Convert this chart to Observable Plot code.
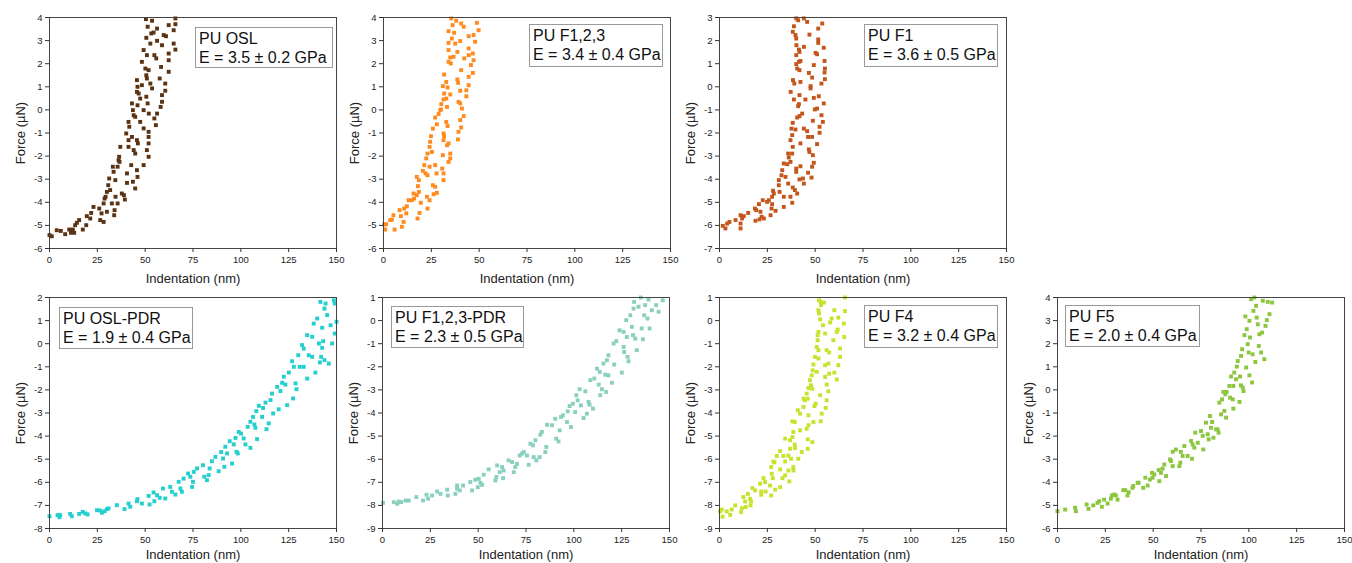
<!DOCTYPE html>
<html>
<head>
<meta charset="utf-8">
<script src="https://cdn.jsdelivr.net/npm/d3@7"></script>
<script src="https://cdn.jsdelivr.net/npm/@observablehq/plot@0.6"></script>
<style>
  html, body { margin: 0; padding: 0; background: #fff; }
  #wrap { position: relative; width: 1352px; height: 563px; overflow: hidden; background: #fff; font-family: "Liberation Sans", Arial, sans-serif; }
  .panel { position: absolute; }
  .legend { position: absolute; border: 1px solid #9a9a9a; background: #fff; box-sizing: border-box;
            font-family: "Liberation Sans", Arial, sans-serif; font-size: 16px; line-height: 19px; color: #111;
            padding: 1px 3px; white-space: nowrap; }
</style>
</head>
<body>
<div id="wrap"></div>
<script>
// ---------- data ----------
const xTicks = [0, 25, 50, 75, 100, 125, 150];

// PU OSL
const oslX = [50.4,51.3,53.6,53.2,54.4,56.2,52.7,50.6,62.3,64.9,65.8,65.8,59.7,60.9,56.2,58.8,
  49.2,48.3,50.9,50.1,50.6,51.8,50.9,54.8,55.8,58.3,62.3,62.3,62.3,64.9,65.8,45.7,46.0,48.3,52.7,53.6,57.6,60.5,60.5,
  43.1,43.6,44.0,44.8,45.7,46.6,46.0,47.4,49.2,50.6,51.3,51.9,54.8,55.6,56.2,58.1,58.8,58.8,41.3,41.7,47.4,49.2,51.8,51.8,
  40.1,41.3,41.3,43.1,44.0,44.8,45.7,46.2,50.9,51.8,51.8,37.0,36.4,36.1,35.6,36.6,33.1,33.5,34.4,40.5,40.5,42.7,43.6,45.7,46.0,49.2,31.2,
  30.7,31.7,30.0,29.3,28.8,28.3,26.0,27.2,26.5,28.3,30.0,32.6,34.0,33.8,35.6,34.5,37.8,38.9,39.4,44.8,
  23.0,21.8,21.3,19.5,19.2,17.4,15.5,14.3,13.4,12.2,11.2,10.3,12.9,8.2,5.9,3.8,1.2,0];
const oslY = [3.93,3.6,3.86,3.31,3.35,3.52,2.87,3.12,3.67,3.45,3.96,3.71,3.24,3.19,2.99,2.8,
  2.59,2.08,2.37,1.79,1.5,1.72,1.36,2.37,2.23,1.86,2.44,2.15,1.65,2.87,2.61,1.29,1.0,1.07,1.14,0.93,1.36,1.14,0.83,
  0.28,-0.01,-0.23,-0.3,0.78,0.71,0.2,0.49,-0.01,0.57,0.28,-0.16,-0.37,-0.66,-0.16,0.13,0.35,0.64,-0.52,-0.73,-0.52,-0.8,-0.95,-1.17,
  -1.02,-1.31,-1.6,-1.17,-1.74,-1.89,-1.31,-1.45,-1.74,-2.03,-1.45,-1.6,-2.03,-2.18,-2.46,-2.25,-2.46,-2.68,-3.04,-2.75,-3.16,-2.39,-3.11,-2.61,-2.9,-2.39,-2.97,
  -3.26,-3.47,-3.55,-3.76,-3.84,-4.05,-4.27,-4.48,-4.77,-4.85,-4.41,-4.05,-4.34,-4.56,-4.05,-3.76,-3.62,-3.69,-3.88,-3.4,
  -4.2,-4.46,-4.7,-4.6,-4.99,-5.18,-4.77,-4.89,-4.99,-5.18,-5.32,-5.18,-5.32,-5.38,-5.24,-5.21,-5.47,-5.42];

// PU F1,2,3
const f123X = [35.4,36.1,38.0,40.6,41.9,48.8,49.7,34.0,35.7,36.9,37.5,40.1,44.5,47.1,47.9,34.0,34.0,34.9,35.2,34.0,36.6,38.6,42.2,44.5,44.5,45.7,46.7,47.1,46.7,40.6,
  31.7,32.8,33.5,31.0,31.7,31.4,32.8,34.9,38.6,39.0,44.5,44.5,43.3,43.3,40.1,30.2,29.7,28.8,27.0,27.9,30.0,33.2,32.8,33.5,39.2,40.1,41.0,41.9,40.1,40.6,39.2,38.9,
  31.4,31.7,31.4,25.8,24.8,24.4,24.1,25.3,23.0,22.3,21.3,22.0,20.6,18.5,18.0,18.5,17.4,16.0,15.7,14.8,13.1,17.4,23.0,24.1,27.0,27.7,27.0,25.8,26.2,27.9,30.7,31.4,31.4,31.0,33.2,34.0,34.9,34.9,34.0,
  22.7,23.0,19.5,18.8,17.8,12.2,11.9,10.8,10.5,9.6,8.4,5.2,4.4,3.5,5.8,0.3,1.4,0.9,9.1,24.1];
const f123Y = [3.96,3.67,3.86,3.74,3.6,3.77,3.45,3.41,3.09,3.34,2.87,2.98,3.19,3.24,2.95,2.9,2.59,2.27,2.01,2.08,2.3,2.51,2.23,2.66,2.37,1.94,2.44,2.15,1.6,1.72,
  1.53,1.21,0.97,1.03,0.71,0.45,0.49,0.67,1.32,1.17,1.43,1.07,0.85,0.59,0.83,0.25,-0.01,-0.18,-0.33,-0.62,0.02,0.13,-0.52,-0.7,0.35,0.28,0.06,-0.27,-0.44,-0.76,-0.95,-1.28,
  -1.02,-1.14,-1.31,-0.81,-1.14,-1.38,-1.6,-1.82,-1.89,-2.1,-2.39,-2.75,-2.64,-3.04,-3.3,-3.55,-3.69,-3.84,-3.62,-3.91,-3.91,-2.9,-2.83,-2.46,-2.39,-2.75,-3.33,-3.26,-3.65,-3.59,-2.54,-2.75,-3.04,-1.96,-1.53,-1.45,-1.89,-2.1,-2.25,
  -3.76,-4.27,-4.02,-4.46,-4.7,-4.17,-4.48,-4.27,-4.85,-5.06,-4.34,-4.56,-4.75,-4.77,-5.18,-4.96,-4.95,-5.18,-4.6,-3.91];

// PU F1
const f1X = [40.1,41.1,44.1,45.8,53.7,38.9,38.3,39.7,40.1,47.0,51.6,51.6,51.6,54.5,50.2,51.0,40.2,41.5,41.8,44.1,40.1,41.5,42.3,40.1,40.6,41.8,49.3,54.9,55.1,54.9,55.1,46.7,48.4,
  38.4,39.1,42.3,47.6,47.6,53.3,37.2,38.9,41.8,44.9,49.3,51.9,54.5,51.0,49.8,41.5,41.1,40.6,41.8,43.2,48.8,53.3,54.0,38.3,37.6,39.7,44.1,45.8,46.3,48.4,52.3,52.3,
  38.0,37.1,38.3,38.0,35.9,36.2,42.3,46.7,47.0,48.8,49.3,51.0,37.1,35.4,33.6,32.8,32.4,34.5,40.1,40.1,42.3,48.4,46.3,48.1,41.8,43.6,44.1,38.3,39.4,40.6,37.1,38.0,35.9,
  31.0,31.0,31.4,28.0,28.4,27.5,25.8,27.5,27.2,33.6,33.6,29.3,24.9,22.6,20.6,21.4,22.0,23.2,18.5,19.2,18.8,20.9,26.7,15.0,12.7,11.0,11.0,11.0,8.4,5.2,4.0,1.7,3.1,11.8];
const f1Y = [2.96,2.88,2.96,2.81,2.74,2.62,2.38,2.24,2.09,2.26,2.52,2.05,1.9,1.69,1.47,1.41,1.8,1.61,1.51,1.73,1.37,1.08,1.12,0.98,0.79,0.72,0.94,1.12,0.79,0.62,0.33,0.6,0.4,
  0.29,0.14,0.21,0.03,-0.07,0.14,-0.22,-0.55,-0.36,-0.55,-0.48,-0.41,-0.72,-0.94,-0.98,-0.75,-0.84,-1.33,-1.27,-1.16,-1.47,-1.23,-1.52,-1.56,-1.81,-1.85,-1.81,-1.92,-2.17,-2.17,-1.73,-1.99,
  -2.09,-2.31,-2.6,-2.89,-2.89,-3.06,-2.45,-2.71,-2.82,-2.96,-3.29,-2.48,-3.25,-3.35,-3.32,-3.61,-3.83,-3.9,-3.54,-3.68,-3.44,-3.46,-3.72,-3.93,-4.01,-3.97,-4.19,-4.36,-4.47,-4.62,-4.76,-5.02,-4.19,
  -4.04,-4.26,-4.55,-4.5,-4.62,-4.76,-4.91,-5.08,-5.27,-4.76,-5.2,-5.37,-4.98,-4.91,-5.08,-5.41,-5.63,-5.7,-5.27,-5.34,-5.8,-5.74,-5.56,-5.46,-5.6,-5.56,-5.92,-6.13,-5.77,-5.85,-5.92,-6.02,-6.13,-5.7];

// PU OSL-PDR
const oslPdrX = [0,4.2,5.2,5.6,10.8,11.7,15.5,17.4,18.7,19.9,24.8,26.5,27.4,28.8,30.0,30.9,35.2,39.2,41.3,42.2,45.7,46.0,48.3,51.8,52.3,54.4,54.8,56.2,57.6,59.3,60.5,63.1,64.0,65.8,
  67.5,68.4,69.2,70.1,72.4,73.6,74.5,75.0,75.4,77.1,80.2,80.9,82.3,83.2,83.7,84.9,86.7,88.4,89.7,90.7,91.4,91.9,92.8,94.2,95.4,96.3,97.2,97.7,98.4,98.9,100.1,101.5,102.4,103.6,
  105.0,105.0,106.4,107.1,107.6,108.1,108.5,109.4,111.1,111.6,112.9,113.4,114.6,115.5,116.3,116.9,119.0,119.8,120.7,121.6,122.5,123.3,124.2,125.1,126.8,127.3,127.7,128.6,129.1,
  130.0,130.8,132.0,132.9,132.9,134.7,134.7,135.5,137.3,137.3,138.1,139.0,139.9,140.8,141.3,142.0,142.5,143.0,144.3,141.6,143.7,145.1,146.0,146.9,147.7,148.6,149.1,149.1,150,142.5,143.7];
const oslPdrY = [-7.47,-7.42,-7.51,-7.42,-7.37,-7.47,-7.37,-7.28,-7.35,-7.39,-7.21,-7.22,-7.32,-7.25,-7.16,-7.13,-6.99,-7.16,-6.92,-7.06,-6.82,-6.73,-6.92,-6.59,-6.96,-6.44,-6.82,-6.56,-6.67,-6.27,-6.7,-6.2,-6.41,-6.53,
  -5.98,-6.27,-6.41,-5.84,-5.62,-5.76,-6.2,-5.98,-5.55,-5.4,-5.26,-5.76,-5.91,-5.69,-5.4,-5.09,-4.9,-5.52,-4.69,-4.97,-5.33,-4.46,-4.75,-4.22,-5.19,-4.36,-4.08,-4.68,-4.75,-3.82,-3.89,-4.1,-4.36,-3.6,
  -4.51,-3.38,-3.17,-3.5,-3.64,-2.92,-4.13,-2.69,-3.17,-2.78,-2.55,-3.7,-3.45,-2.44,-2.16,-3.02,-1.87,-2.84,-2.05,-1.69,-1.43,-1.77,-2.66,-1.25,-0.76,-2.37,-1.0,-1.72,-1.97,
  -0.5,-1.0,-0.06,-0.21,-1.0,-1.51,0.37,-0.5,0.3,-0.57,0.87,-1.25,1.09,0.01,-0.81,-0.57,0.69,0.11,1.74,1.81,1.52,1.24,-0.86,0.8,0.01,1.88,1.74,0.44,0.95,-0.18,-0.71];

// PU F1,2,3-PDR
const f123PdrX = [0.3,5.9,7.7,8.5,9.7,12.0,13.7,17.7,21.2,23.0,23.8,25.9,28.5,30.3,33.8,34.1,38.1,39.0,39.0,40.4,42.1,45.9,46.8,48.5,49.8,50.3,51.2,52.0,52.9,55.5,59.0,59.5,59.9,61.3,62.5,63.0,63.3,
  65.9,67.7,68.6,69.4,70.3,71.7,72.9,73.8,75.5,76.4,77.3,78.6,79.0,79.9,80.4,82.1,82.5,83.3,85.1,85.6,86.0,88.6,90.3,90.8,92.0,92.6,93.3,94.3,96.4,96.8,97.8,98.5,99.5,100.7,101.3,102.0,103.0,103.7,
  105.1,106.0,106.8,107.7,108.2,108.6,110.0,110.7,112.1,113.0,113.5,113.8,114.7,115.5,116.4,116.9,117.3,118.1,118.1,119.9,120.8,121.1,122.2,123.9,125.1,126.0,126.0,126.3,127.4,127.7,128.1,128.6,
  129.5,130.3,130.9,131.2,131.5,132.1,132.9,133.8,135.0,135.5,136.1,136.8,137.3,138.5,139.0,139.6,140.8,143.0,144.3,146.5];
const f123PdrY = [-7.89,-7.86,-7.93,-7.83,-7.86,-7.79,-7.79,-7.64,-7.79,-7.54,-7.71,-7.57,-7.4,-7.5,-7.32,-7.57,-7.5,-7.14,-7.28,-7.35,-7.14,-6.99,-7.35,-6.89,-7.21,-6.85,-7.02,-7.11,-6.67,-6.44,-6.92,-6.77,-6.27,-6.56,-6.34,-6.82,-6.49,
  -6.05,-6.12,-6.56,-6.34,-6.2,-5.84,-5.76,-5.69,-5.84,-6.24,-5.33,-5.4,-5.91,-5.18,-6.05,-5.91,-4.94,-4.82,-5.69,-5.47,-4.51,-4.53,-4.25,-5.11,-5.23,-4.75,-4.17,-4.1,-4.39,-3.93,-3.7,-4.61,-3.6,-3.96,-3.23,-3.45,-2.97,-3.67,
  -4.22,-3.06,-4.03,-3.52,-3.64,-2.58,-3.81,-2.51,-2.08,-2.77,-2.22,-3.23,-2.97,-1.86,-2.34,-3.09,-1.72,-1.5,-2.37,-2.69,-0.99,-1.9,-0.89,-0.42,-2.25,-0.49,-1.14,-1.36,0.02,-0.71,-1.57,-1.76,
  0.23,-0.27,-0.63,0.52,0.81,-0.78,-1.28,0.6,1.0,-0.34,-0.81,0.23,0.67,0.09,0.91,-0.34,0.45,0.67,0.38,0.88];

// PU F4
const f4X = [52.0,52.9,54.6,53.1,65.6,65.6,60.0,65.0,51.7,52.0,52.6,58.6,57.8,62.1,54.1,51.7,51.3,61.8,61.3,55.2,51.3,50.8,51.7,59.5,65.2,63.0,56.0,57.3,51.7,49.9,56.9,55.2,62.1,49.1,50.8,48.7,63.0,
  60.0,61.3,57.3,55.2,48.2,47.3,47.8,48.5,46.5,45.6,56.0,56.9,52.6,50.3,49.6,46.1,44.7,43.9,56.0,55.5,43.9,42.1,40.9,46.5,49.1,53.4,52.9,46.5,45.6,42.1,38.1,39.3,38.6,38.1,39.3,39.5,46.1,46.1,48.5,
  34.3,36.9,36.9,36.0,37.4,38.6,41.2,43.0,31.7,33.4,29.9,28.2,27.0,28.7,34.3,31.7,34.3,36.0,38.6,27.3,27.8,23.8,23.0,26.4,29.1,31.7,32.9,36.5,21.2,21.8,21.8,24.1,27.0,18.6,17.2,14.8,12.5,13.4,
  11.7,11.3,13.7,8.2,6.4,5.6,3.8,1.6,0.3,1.2,16.5,16.2,16.0];
const f4Y = [0.88,0.81,0.78,0.67,1.0,0.41,0.45,-0.13,0.45,0.31,0.05,0.09,-0.08,0.13,-0.2,-0.49,-0.63,-0.39,-0.49,-0.56,-0.85,-1.14,-1.28,-0.85,-0.71,-1.21,-1.28,-1.38,-1.64,-1.57,-1.86,-1.93,-1.93,-1.9,-2.22,-2.15,-1.57,
  -2.25,-2.55,-2.3,-2.44,-2.37,-2.58,-2.8,-2.95,-2.92,-3.16,-2.77,-3.06,-3.23,-3.6,-3.7,-3.38,-3.45,-3.38,-3.45,-3.78,-3.74,-4.03,-3.88,-4.1,-4.39,-4.03,-4.36,-4.53,-4.68,-4.75,-4.36,-4.39,-4.82,-5.04,-5.37,-5.52,-5.14,-5.55,-5.26,
  -5.11,-5.18,-5.55,-5.84,-5.98,-6.34,-5.98,-5.69,-5.65,-5.86,-5.86,-6.1,-6.34,-6.14,-6.1,-6.44,-6.7,-6.49,-6.49,-6.63,-6.82,-6.99,-6.82,-7.14,-7.32,-7.21,-6.82,-6.96,-7.06,-7.4,-7.54,-7.4,-7.57,-7.35,-7.25,-7.5,-7.64,-7.83,
  -8.12,-8.29,-8.07,-8.0,-8.18,-8.41,-8.26,-8.49,-8.26,-8.18,-7.83,-8.0,-7.71];

// PU F5
const f5X = [0,4.0,9.2,9.6,15.2,16.2,18.7,20.9,21.8,23.2,24.4,26.2,27.9,28.4,29.7,30.5,31.4,34.4,35.4,36.6,37.2,39.2,39.6,41.9,42.4,44.8,45.9,47.1,48.3,49.4,49.7,50.6,52.9,53.2,54.1,54.9,55.8,56.7,
  58.8,59.3,60.2,60.2,61.9,63.7,64.2,64.5,65.4,66.3,68.0,69.8,70.3,70.6,71.5,72.0,73.3,75.0,75.9,76.2,77.6,78.5,79.0,79.7,80.2,80.8,81.5,82.9,83.7,84.2,84.6,85.5,86.0,86.7,87.2,87.7,88.1,88.4,
  89.8,90.7,91.6,91.9,91.9,92.4,93.7,94.2,95.1,95.4,95.9,95.9,96.5,96.8,97.2,97.7,98.6,98.2,98.9,99.4,99.9,100.3,100.3,100.6,101.2,101.7,102.0,102.4,102.9,103.4,103.8,104.1,104.7,105.2,105.5,
  106.4,106.9,107.3,108.1,108.7,109.4,109.9,110.8,112.2,93.3,90.2];
const f5Y = [-5.25,-5.18,-5.1,-5.25,-4.96,-5.15,-5.0,-4.89,-4.82,-5.06,-4.75,-4.92,-4.71,-4.57,-4.53,-4.57,-4.75,-4.34,-4.34,-4.57,-4.43,-4.24,-4.16,-4.02,-4.02,-4.24,-3.8,-4.14,-3.88,-3.59,-3.8,-3.66,-3.47,-3.95,-3.59,-3.41,-3.23,-3.73,
  -3.01,-3.08,-3.3,-2.68,-2.58,-3.3,-3.15,-2.68,-2.86,-2.43,-2.86,-2.21,-2.98,-2.36,-2.5,-1.85,-2.29,-1.78,-1.99,-2.58,-1.42,-1.92,-2.14,-1.13,-1.64,-1.39,-2.07,-1.71,-1.71,-1.85,-0.55,-1.06,-0.41,-0.09,-0.91,-0.19,-1.2,-0.09,
  0.17,0.58,-0.41,0.17,-0.81,0.75,1.01,1.25,-0.52,0.58,1.47,0.2,1.76,0.1,-0.05,2.37,0.97,3.18,2.63,1.98,1.62,2.99,0.63,2.27,3.93,0.32,1.54,3.42,4.0,1.21,3.64,3.13,2.84,1.9,2.41,
  1.62,2.48,3.86,1.33,2.77,3.02,3.81,3.28,3.78,0.46,-0.34];

// panel definitions: name, modulus text, colour, y domain, y ticks
const names  = ["PU OSL", "PU F1,2,3", "PU F1", "PU OSL-PDR", "PU F1,2,3-PDR", "PU F4", "PU F5"];
const moduli = ["E = 3.5 ± 0.2 GPa", "E = 3.4 ± 0.4 GPa", "E = 3.6 ± 0.5 GPa", "E = 1.9 ± 0.4 GPa", "E = 2.3 ± 0.5 GPa", "E = 3.2 ± 0.4 GPa", "E = 2.0 ± 0.4 GPa"];
const colors = ["#5b3312", "#ff8b1f", "#c4561b", "#25cfcf", "#8ad0bf", "#c8e22e", "#8cc63f"];
const yDomains = [[-6, 4], [-6, 4], [-7, 3], [-8, 2], [-9, 1], [-9, 1], [-6, 4]];
const yTickSets = [
  [-6,-5,-4,-3,-2,-1,0,1,2,3,4],
  [-6,-5,-4,-3,-2,-1,0,1,2,3,4],
  [-7,-6,-5,-4,-3,-2,-1,0,1,2,3],
  [-8,-7,-6,-5,-4,-3,-2,-1,0,1,2],
  [-9,-8,-7,-6,-5,-4,-3,-2,-1,0,1],
  [-9,-8,-7,-6,-5,-4,-3,-2,-1,0,1],
  [-6,-5,-4,-3,-2,-1,0,1,2,3,4]
];
const seriesX = [oslX, f123X, f1X, oslPdrX, f123PdrX, f4X, f5X];
const seriesY = [oslY, f123Y, f1Y, oslPdrY, f123PdrY, f4Y, f5Y];

// ---------- layout ----------
const panelPos = [[0, 0], [334, 0], [670, 0], [0, 280], [333, 280], [670, 280], [1008, 280]];
// legend box: side ('left'/'right'), offset from frame side, offset from frame top, width, height
const legendPos = [["right", 3, 10, 138, 41], ["right", 7, 7, 134, 43], ["right", 8, 7, 134, 43],
                   ["left", 10, 10, 134, 42], ["left", 9, 9, 133, 42], ["right", 8, 8, 134, 43], ["left", 8, 8, 135, 42]];

const W = 340, H = 280, ML = 49, MR = 4, MT = 17, MB = 32;
const wrap = document.getElementById("wrap");

names.forEach((name, i) => {
  const data = seriesX[i].map((x, k) => ({x, y: seriesY[i][k]}));
  const [y0, y1] = yDomains[i];
  const bottomRow = panelPos[i][1] > 0;
  const chart = Plot.plot({
    width: W, height: H,
    marginLeft: ML, marginRight: MR, marginTop: MT, marginBottom: MB,
    style: {fontFamily: "Liberation Sans, Arial, sans-serif", fontSize: "9.5px", color: "#222", background: "transparent", overflow: "visible"},
    x: {domain: [0, 150]},
    y: {domain: [y0, y1]},
    marks: [
      Plot.dot(data, {x: "x", y: "y", symbol: "square", r: 2.2, fill: colors[i], stroke: null}),
      Plot.frame({stroke: "#444", strokeWidth: 1}),
      Plot.axisX({ticks: xTicks, tickSize: 4, tickPadding: 4, label: null, stroke: "#333"}),
      Plot.axisY({ticks: yTickSets[i], tickSize: 4, tickPadding: 3, label: null, stroke: "#333",
                  tickFormat: d => (d < 0 ? "-" + Math.abs(d) : String(d))}),
      Plot.text(["Indentation (nm)"], {frameAnchor: "bottom", dy: bottomRow ? 26.5 : 30, lineAnchor: "middle", fontSize: 13, fill: "#222"}),
      Plot.text(["Force (µN)"], {frameAnchor: "left", dx: -29, rotate: -90, lineAnchor: "middle", textAnchor: "middle", fontSize: 13, fill: "#222"})
    ]
  });
  const div = document.createElement("div");
  div.className = "panel";
  div.style.left = panelPos[i][0] + "px";
  div.style.top = panelPos[i][1] + "px";
  div.style.width = W + "px";
  div.style.height = H + "px";
  div.appendChild(chart);

  const [side, off, top, lw, lh] = legendPos[i];
  const lg = document.createElement("div");
  lg.className = "legend";
  lg.style.top = (MT + top) + "px";
  if (side === "left") lg.style.left = (ML + off) + "px";
  else lg.style.left = (W - MR - off - lw) + "px";
  lg.style.width = lw + "px";
  lg.style.height = lh + "px";
  lg.innerHTML = `<div>${name}</div><div>${moduli[i]}</div>`;
  div.appendChild(lg);
  wrap.appendChild(div);
});
</script>
</body>
</html>
